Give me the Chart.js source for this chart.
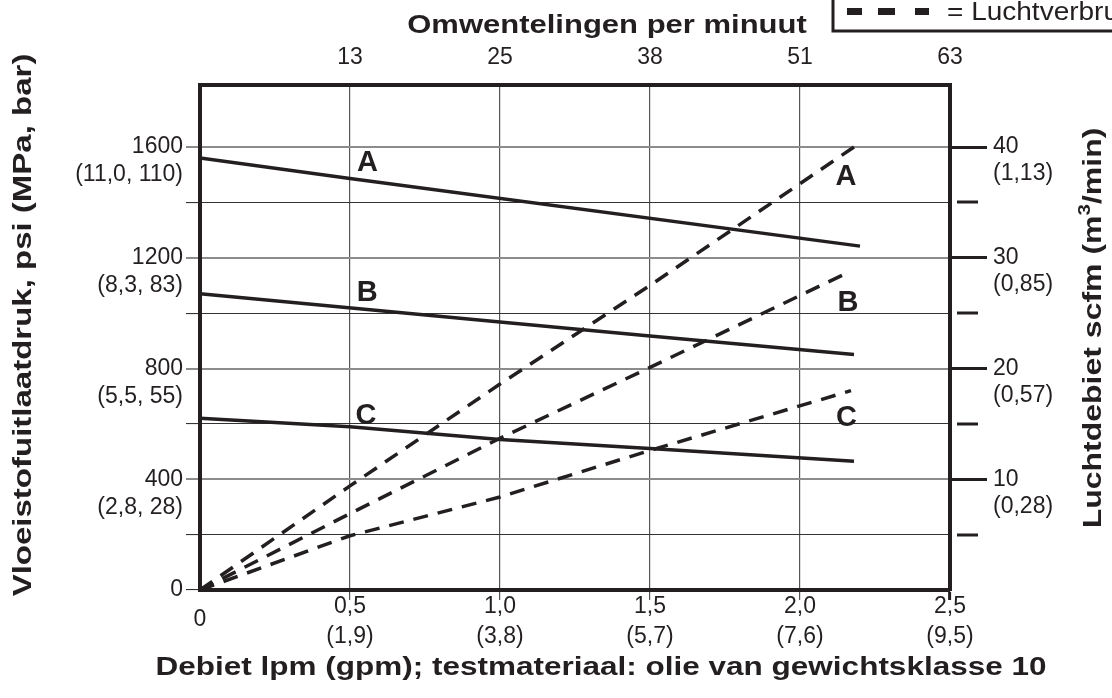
<!DOCTYPE html>
<html>
<head>
<meta charset="utf-8">
<script src="https://cdn.jsdelivr.net/npm/chart.js"></script>
<style>
  html, body { margin: 0; padding: 0; background: #fff; }
  #wrap { width: 1112px; height: 698px; }
</style>
</head>
<body>
<div id="wrap"><canvas id="chart" width="1112" height="698"></canvas></div>
<script>
// bottom axis: flow in gpm (lpm in brackets), top axis: pump cycles per minute
const gpmTicks = [0, 0.5, 1.0, 1.5, 2.0, 2.5]
const gpmLabels = ["0", "0,5", "1,0", "1,5", "2,0", "2,5"]
const lpmLabels = ["", "(1,9)", "(3,8)", "(5,7)", "(7,6)", "(9,5)"]
const rpmLabels = ["", "13", "25", "38", "51", "63"]

// left axis: fluid outlet pressure in psi (MPa, bar)
const psiTicks = [0, 200, 400, 600, 800, 1000, 1200, 1400, 1600]
const psiLabeled = [400, 800, 1200, 1600]
const mpaBarLabels = ["(2,8, 28)", "(5,5, 55)", "(8,3, 83)", "(11,0, 110)"]

// right axis: air flow in scfm (m3/min)
const scfmTicks = [10, 20, 30, 40]
const scfmMinor = [5, 15, 25, 35]
const m3Labels = ["(0,28)", "(0,57)", "(0,85)", "(1,13)"]

// fluid pressure lines (solid), psi
const pressAGpm = [0, 0.5, 2.2]
const pressAPsi = [1560, 1486, 1242]
const pressBGpm = [0, 1.0, 1.5, 2.18]
const pressBPsi = [1070, 968, 917, 851]
const pressCGpm = [0, 0.5, 1.0, 1.5, 2.18]
const pressCPsi = [620, 590, 544, 511, 465]

// air consumption lines (dashed), scfm
const airAGpm = [0, 0.5, 1.0, 1.5, 2.18]
const airAScfm = [0, 9.4, 18.6, 27.5, 40]
const airBGpm = [0, 0.5, 1.0, 1.5, 2.17]
const airBScfm = [0, 6.9, 13.7, 20.1, 28.8]
const airCGpm = [0, 0.5, 1.0, 1.5, 2.17]
const airCScfm = [0, 4.9, 8.4, 12.6, 18.0]

// curve letters (gpm, psi)
const tagText = ["A", "B", "C", "A", "B", "C"]
const tagGpm = [0.558, 0.557, 0.553, 2.153, 2.16, 2.155]
const tagPsi = [1544, 1073, 628, 1492, 1035, 621]

const INK = "#231f20"
const FAMILY = '"Liberation Sans", Arial, Helvetica, sans-serif'
const PSI_MAX = 1824

const toPoints = (xs, ys) => xs.map((x, i) => ({ x: x, y: ys[i] }))

const solid = (label, xs, ys) => ({
  label: label,
  data: toPoints(xs, ys),
  yAxisID: "y",
  borderColor: INK,
  borderWidth: 3.5,
  pointRadius: 0,
  tension: 0,
  fill: false,
})

const dashed = (label, xs, ys) => ({
  label: label,
  data: toPoints(xs, ys),
  yAxisID: "y2",
  borderColor: INK,
  borderWidth: 3.5,
  borderDash: [15, 10],
  pointRadius: 0,
  tension: 0,
  fill: false,
})

function stretchText(ctx, text, cx, cy, rot, sx) {
  ctx.save()
  ctx.translate(cx, cy)
  ctx.rotate(rot)
  ctx.scale(sx, 1)
  ctx.textAlign = "center"
  ctx.textBaseline = "middle"
  ctx.fillText(text, 0, 0)
  ctx.restore()
}

const extras = {
  id: "extras",
  afterDraw(chart) {
    const { ctx, scales } = chart
    const x = scales.x
    const y = scales.y
    const y2 = scales.y2
    ctx.save()

    // short minor ticks on the air axis
    ctx.strokeStyle = INK
    ctx.lineWidth = 3
    scfmMinor.forEach((v) => {
      const py = Math.round(y2.getPixelForValue(v))
      ctx.beginPath()
      ctx.moveTo(y2.left + 7, py)
      ctx.lineTo(y2.left + 28, py)
      ctx.stroke()
    })

    // curve letters
    ctx.fillStyle = INK
    ctx.font = "bold 29px " + FAMILY
    ctx.textAlign = "center"
    ctx.textBaseline = "middle"
    tagText.forEach((t, i) => {
      ctx.fillText(t, x.getPixelForValue(tagGpm[i]), y.getPixelForValue(tagPsi[i]))
    })

    // axis titles
    ctx.font = "bold 25px " + FAMILY
    stretchText(ctx, "Omwentelingen per minuut", 607, 26, 0, 1.24)
    stretchText(ctx, "Debiet lpm (gpm); testmateriaal: olie van gewichtsklasse 10", 601, 668, 0, 1.26)
    stretchText(ctx, "Vloeistofuitlaatdruk, psi (MPa, bar)", 24, 325, -Math.PI / 2, 1.32)

    // right title with superscript 3
    ctx.save()
    ctx.translate(1094, 328)
    ctx.rotate(-Math.PI / 2)
    ctx.scale(1.28, 1)
    ctx.textBaseline = "middle"
    ctx.textAlign = "left"
    const partA = "Luchtdebiet scfm (m"
    const partB = "/min)"
    ctx.font = "bold 25px " + FAMILY
    const wA = ctx.measureText(partA).width
    const wB = ctx.measureText(partB).width
    ctx.font = "bold 16px " + FAMILY
    const wS = ctx.measureText("3").width
    let px = -(wA + wS + wB) / 2
    ctx.font = "bold 25px " + FAMILY
    ctx.fillText(partA, px, 0)
    px += wA
    ctx.font = "bold 16px " + FAMILY
    ctx.fillText("3", px, -8)
    px += wS
    ctx.font = "bold 25px " + FAMILY
    ctx.fillText(partB, px, 0)
    ctx.restore()

    // legend box (cut off at the top right)
    ctx.strokeStyle = INK
    ctx.lineWidth = 3
    ctx.beginPath()
    ctx.moveTo(833, -2)
    ctx.lineTo(833, 31)
    ctx.lineTo(1114, 31)
    ctx.stroke()
    ctx.fillStyle = INK
    ctx.fillRect(847, 8, 15, 7)
    ctx.fillRect(878, 8, 17, 7)
    ctx.fillRect(915, 8, 14, 7)
    ctx.font = "25px " + FAMILY
    ctx.save()
    ctx.translate(947, 13)
    ctx.scale(1.12, 1)
    ctx.textAlign = "left"
    ctx.textBaseline = "middle"
    ctx.fillText("= Luchtverbruik", 0, 0)
    ctx.restore()

    ctx.restore()
  },
}

const tickFont = (lh) => ({ family: FAMILY, size: 23, lineHeight: lh })

new Chart(document.getElementById("chart"), {
  type: "line",
  data: {
    datasets: [
      solid("A", pressAGpm, pressAPsi),
      solid("B", pressBGpm, pressBPsi),
      solid("C", pressCGpm, pressCPsi),
      dashed("Lucht A", airAGpm, airAScfm),
      dashed("Lucht B", airBGpm, airBScfm),
      dashed("Lucht C", airCGpm, airCScfm),
    ],
  },
  options: {
    responsive: false,
    animation: false,
    layout: { padding: 0 },
    plugins: {
      legend: { display: false },
      tooltip: { enabled: false },
    },
    scales: {
      x: {
        type: "linear",
        position: "bottom",
        min: 0,
        max: 2.5,
        afterFit: (s) => { s.height = 108 },
        afterBuildTicks: (s) => { s.ticks = gpmTicks.map((v) => ({ value: v })) },
        ticks: {
          autoSkip: false,
          maxRotation: 0,
          padding: -8,
          color: INK,
          font: (c) => tickFont(c.index === 0 ? "56px" : "30px"),
          callback: (v, i) => (i === 0 ? "0" : [gpmLabels[i], lpmLabels[i]]),
        },
        grid: {
          color: (c) => (c.tick && (c.tick.value === 0 || c.tick.value === 2.5) ? "transparent" : "#555"),
          lineWidth: 1.2,
          tickLength: 10,
          tickColor: (c) => (c.tick && c.tick.value === 0 ? "transparent" : c.tick && c.tick.value === 2.5 ? INK : "#555"),
          tickWidth: (c) => (c.tick && c.tick.value === 2.5 ? 3 : 1.2),
        },
        border: { display: true, color: INK, width: 4 },
      },
      x2: {
        type: "linear",
        position: "top",
        min: 0,
        max: 2.5,
        afterFit: (s) => { s.height = 85 },
        afterBuildTicks: (s) => { s.ticks = gpmTicks.map((v) => ({ value: v })) },
        ticks: {
          autoSkip: false,
          maxRotation: 0,
          padding: 14,
          color: INK,
          font: tickFont("26px"),
          callback: (v, i) => rpmLabels[i],
        },
        grid: { drawOnChartArea: false, drawTicks: false },
        border: { display: true, color: INK, width: 4 },
      },
      y: {
        type: "linear",
        position: "left",
        min: 0,
        max: PSI_MAX,
        afterFit: (s) => { s.width = 200 },
        afterBuildTicks: (s) => { s.ticks = psiTicks.map((v) => ({ value: v })) },
        ticks: {
          autoSkip: false,
          padding: 3,
          color: INK,
          font: tickFont("28px"),
          callback: (v) => {
            if (v === 0) return "0"
            const k = psiLabeled.indexOf(v)
            return k < 0 ? "" : ["", String(v), mpaBarLabels[k]]
          },
        },
        grid: {
          color: (c) => (c.tick && psiLabeled.includes(c.tick.value) ? "#8c8c8c" : "#333"),
          lineWidth: (c) => (c.tick && psiLabeled.includes(c.tick.value) ? 2 : 1.1),
          tickLength: 14,
        },
        border: { display: true, color: INK, width: 4 },
      },
      y2: {
        type: "linear",
        position: "right",
        min: 0,
        max: PSI_MAX / 40,
        afterFit: (s) => { s.width = 162 },
        afterBuildTicks: (s) => { s.ticks = scfmTicks.map((v) => ({ value: v })) },
        ticks: {
          autoSkip: false,
          padding: 6,
          color: INK,
          font: tickFont("27px"),
          callback: (v) => {
            const k = scfmTicks.indexOf(v)
            return ["", String(v), m3Labels[k]]
          },
        },
        grid: {
          drawOnChartArea: false,
          tickLength: 37,
          tickWidth: 3,
          tickColor: INK,
        },
        border: { display: true, color: INK, width: 4 },
      },
    },
  },
  plugins: [extras],
})
</script>
</body>
</html>
